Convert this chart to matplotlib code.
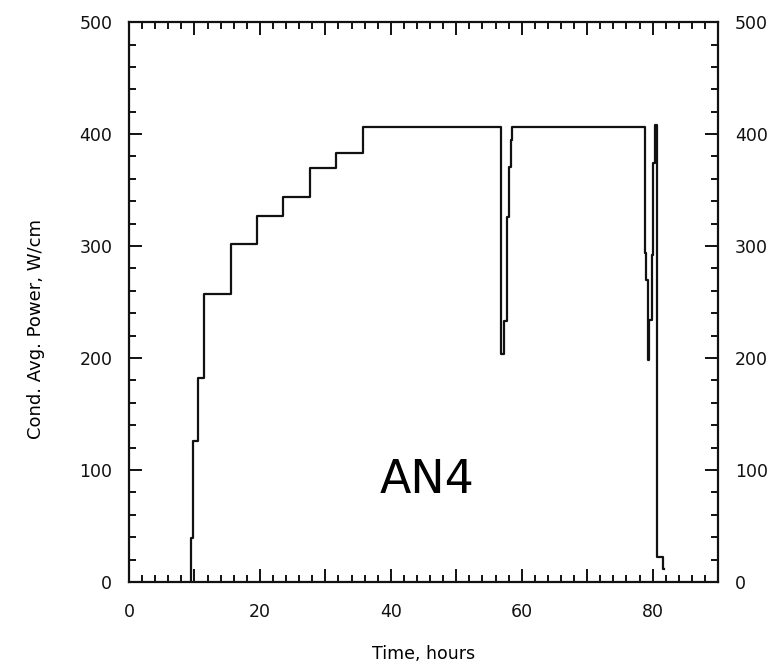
import matplotlib.pyplot as plt
from matplotlib.ticker import MultipleLocator, FuncFormatter

# conductor average power history, step changes (hours, W/cm)
time_h = [9.4, 9.4, 9.8, 10.6, 11.5, 15.6, 19.6, 23.6, 27.7, 31.7, 35.7,
          56.8, 56.9, 57.3, 57.7, 57.8, 58.1, 58.4, 58.5,
          78.9, 79.0, 79.3, 79.5, 79.9, 80.0, 80.1, 80.4,
          80.6, 81.6, 81.8]
power_wcm = [0, 39, 126, 182, 257, 302, 327, 344, 370, 383, 406,
             305, 204, 233, 287, 326, 371, 395, 406,
             294, 270, 198, 234, 292, 338, 374, 408,
             22, 12, 12]

plt.rcParams['font.family'] = ['DejaVu Sans']

fig = plt.figure(figsize=(7.74, 6.70), dpi=100)
ax = fig.add_axes([0.1667, 0.1313, 0.7610, 0.8357])

ax.step(time_h, power_wcm, where='post', color='#111111', lw=1.6)

ax.set_xlim(0, 90)
ax.set_ylim(0, 500)
# long ticks every 10 h, labels only every 20 h
ax.xaxis.set_major_locator(MultipleLocator(10))
ax.xaxis.set_major_formatter(FuncFormatter(
    lambda v, _: f'{v:.0f}' if round(v) % 20 == 0 else ''))
ax.xaxis.set_minor_locator(MultipleLocator(2))
ax.yaxis.set_major_locator(MultipleLocator(100))
ax.yaxis.set_minor_locator(MultipleLocator(20))

ax.tick_params(which='both', direction='in', top=True, right=True,
               labelright=True, width=1.4, colors='#111111', labelsize=12.5)
ax.tick_params(which='major', length=9.5, pad=12)
ax.tick_params(which='minor', length=5)
ax.tick_params(axis='x', which='major', pad=15)

for s in ax.spines.values():
    s.set_linewidth(1.6)
    s.set_color('#111111')

ax.set_xlabel('Time, hours', fontsize=12.5)
ax.xaxis.set_label_coords(0.5, -0.113)
ax.set_ylabel('Cond. Avg. Power, W/cm', fontsize=13)
ax.yaxis.set_label_coords(-0.143, 0.452)

ax.text(45.6, 91, 'AN4', fontsize=33, family='DejaVu Sans',
        ha='center', va='center', color='black')

fig.savefig('out.png', dpi=100)
